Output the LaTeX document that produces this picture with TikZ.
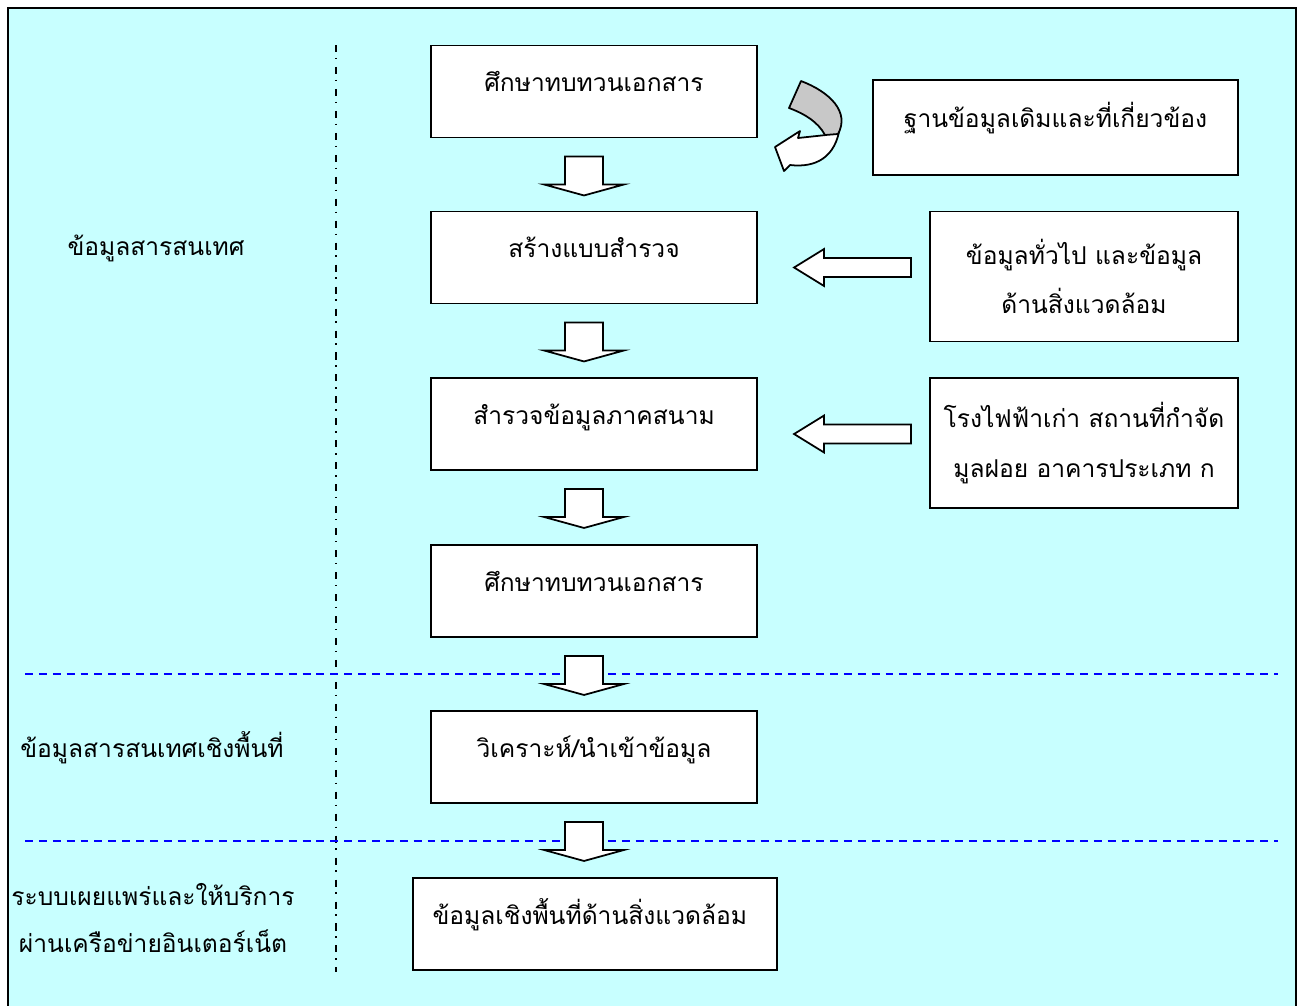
\documentclass[tikz,border=0pt]{standalone}
\usepackage{fontspec}
\newfontfamily\thaifont[Script=Thai]{Loma}
\usetikzlibrary{calc}
\definecolor{bgcyan}{HTML}{C8FFFF}
\definecolor{bandgray}{HTML}{C8C8C8}
\begin{document}
\begin{tikzpicture}[x=0.02cm, y=-0.02cm,
	txt/.style={font=\thaifont\fontsize{14}{28}\selectfont, align=center},
	box/.style={txt, draw, line width=1.1pt, fill=white, minimum width=6.52cm, minimum height=1.84cm,
		text height=0.5cm, text depth=0.5cm},
	sidebox/.style={txt, draw, line width=1.1pt, fill=white, minimum width=6.16cm, minimum height=2.6cm},
	blockarrow/.style={draw, line width=1pt, fill=white, line join=miter}
]
	\fill[white] (0,0) rectangle (1300,1005);
	\useasboundingbox (0,0) rectangle (1300,1005);
	\draw[line width=1.3pt, fill=bgcyan] (8,8) rectangle (1296,1020);

	% dividers
	\draw[line width=0.9pt, dash pattern=on 4pt off 3.3pt on 0.8pt off 4.4pt] (336,45) -- (336,972);
	\draw[blue, line width=0.9pt, dash pattern=on 4.5pt off 3.4pt] (25,674) -- (1278,674);
	\draw[blue, line width=0.9pt, dash pattern=on 4.5pt off 3.4pt] (25,841) -- (1278,841);

	% main column
	\node[box] (b1) at (594,91.5) {ศึกษาทบทวนเอกสาร};
	\node[box] (b2) at (594,257.5) {สร้างแบบสำรวจ};
	\node[box] (b3) at (594,424) {สำรวจข้อมูลภาคสนาม};
	\node[box] (b4) at (594,591) {ศึกษาทบทวนเอกสาร};
	\node[box] (b5) at (594,757) {วิเคราะห์/นำเข้าข้อมูล};
	\node[box, minimum width=7.28cm, text width=6.5cm, align=left] (b6) at (595,924) {ข้อมูลเชิงพื้นที่ด้านสิ่งแวดล้อม};

	% side inputs
	\node[box, minimum width=7.3cm, minimum height=1.9cm] (r1) at (1055.5,127.5) {ฐานข้อมูลเดิมและที่เกี่ยวข้อง};
	\node[sidebox] (r2) at (1084,276.5) {ข้อมูลทั่วไป และข้อมูล\\ด้านสิ่งแวดล้อม};
	\node[sidebox] (r3) at (1084,443) {โรงไฟฟ้าเก่า สถานที่กำจัด\\มูลฝอย อาคารประเภท ก};

	% layer labels
	\node[txt] (l1) at (156,248) {ข้อมูลสารสนเทศ};
	\node[txt] (l2) at (152,748) {ข้อมูลสารสนเทศเชิงพื้นที่};
	\node[txt, font=\thaifont\fontsize{14}{26.5}\selectfont] (l3) at (153,918) {ระบบเผยแพร่และให้บริการ\\ผ่านเครือข่ายอินเตอร์เน็ต};

	% down arrows
	\foreach \a/\b in {b1/b2, b2/b3, b3/b4, b4/b5, b5/b6}
		\draw[blockarrow] ([shift={(-29,18)}]\a.south) -- ++(38,0) -- ++(0,28) -- ++(21,0)
			-- ++(-40,11) -- ++(-40,-11) -- ++(21,0) -- cycle;

	% left arrows
	\foreach \r in {r2, r3}
		\draw[blockarrow] ([shift={(-18,-18.5)}]\r.west) -- ++(-87,0) -- ++(0,-9) -- ++(-30,18.5)
			-- ++(30,18.5) -- ++(0,-9) -- ++(87,0) -- cycle;

	% curved arrow
	\draw[blockarrow, line join=round] (826,135) -- (798,138) -- (800,131) -- (775,147) -- (784,171) -- (790,165)
		.. controls (815,168) and (836,158) .. (840,126) -- cycle;
	\draw[line width=1pt, fill=bandgray, line join=round] (801,81) .. controls (830,92) and (850,112) .. (838,134)
		-- (825,135) .. controls (818,122) and (805,114) .. (789,108) -- cycle;
\end{tikzpicture}
\end{document}
